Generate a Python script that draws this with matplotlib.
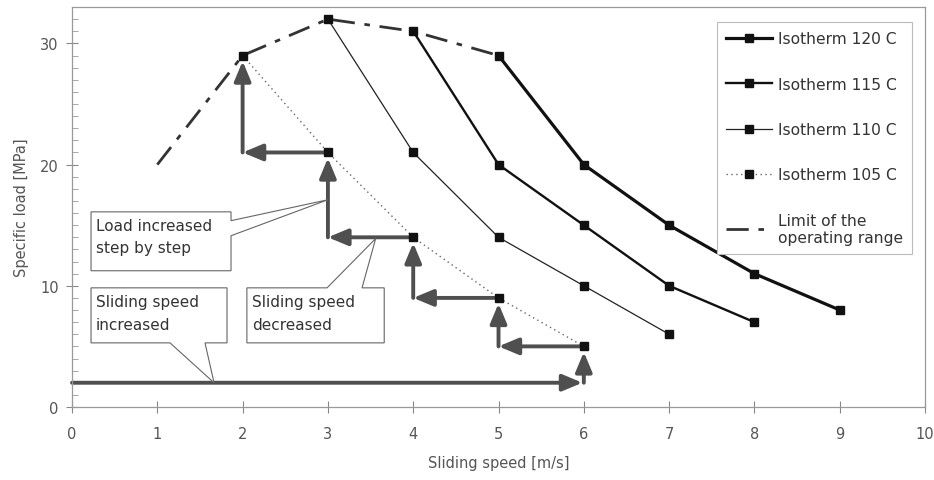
import matplotlib
matplotlib.use("Agg")
import matplotlib.pyplot as plt
from matplotlib.patches import Polygon
from matplotlib.ticker import MultipleLocator

# Isotherme (Sliding speed [m/s] -> Specific load [MPa])
speed_120 = [5, 6, 7, 8, 9]
load_120 = [29, 20, 15, 11, 8]
speed_115 = [4, 5, 6, 7, 8]
load_115 = [31, 20, 15, 10, 7]
speed_110 = [3, 4, 5, 6, 7]
load_110 = [32, 21, 14, 10, 6]
speed_105 = [2, 3, 4, 5, 6]
load_105 = [29, 21, 14, 9, 5]

# Grenze des Betriebsbereichs
limit_speed = [1, 2, 3, 4, 5]
limit_load = [20, 29, 32, 31, 29]

# Startlast beim Hochfahren der Geschwindigkeit
start_load = 2

GRAY = "#555555"
ARROW = "#4f4f4f"
TEXT = "#333333"

plt.rcParams["font.family"] = ["DejaVu Sans"]

fig = plt.figure(figsize=(9.34, 4.81), dpi=100)
ax = fig.add_axes([0.0771, 0.1518, 0.9133, 0.8315])

ax.plot(speed_120, load_120, color="#111111", lw=2.3, marker="s", ms=6,
        mfc="#111111", mec="#111111", label="Isotherm 120 C", zorder=4)
ax.plot(speed_115, load_115, color="#111111", lw=1.7, marker="s", ms=6,
        mfc="#111111", mec="#111111", label="Isotherm 115 C", zorder=4)
ax.plot(speed_110, load_110, color="#222222", lw=0.9, marker="s", ms=6,
        mfc="#111111", mec="#111111", label="Isotherm 110 C", zorder=4)
ax.plot(speed_105, load_105, color="#666666", lw=1.0, ls=(0, (1, 2.5)), marker="s", ms=6,
        mfc="#111111", mec="#111111", label="Isotherm 105 C", zorder=4)
ax.plot(limit_speed, limit_load, color="#333333", lw=2.0, ls=(0, (8, 3.5, 2, 3.5)),
        label="Limit of the\noperating range", zorder=3)


def arrow(start, end, shrink=0):
    ax.annotate("", xy=end, xytext=start, zorder=2,
                arrowprops=dict(arrowstyle="-|>,head_length=0.6,head_width=0.25",
                                mutation_scale=20, lw=2.8, color=ARROW,
                                shrinkA=0, shrinkB=shrink))


# Geschwindigkeit hochfahren, dann stufenweise Last erhöhen
arrow((0, start_load), (speed_105[-1], start_load), shrink=1)
arrow((speed_105[-1], start_load), (speed_105[-1], load_105[-1]), shrink=4)
for i in range(len(speed_105) - 1, 0, -1):
    arrow((speed_105[i], load_105[i]), (speed_105[i - 1], load_105[i]))
    arrow((speed_105[i - 1], load_105[i]), (speed_105[i - 1], load_105[i - 1]), shrink=4)


def callout(verts, text_xy, text):
    ax.add_patch(Polygon(verts, closed=True, fc="white", ec="#666666", lw=0.8, zorder=5))
    ax.text(text_xy[0], text_xy[1], text, ha="left", va="center", fontsize=11,
            color=TEXT, linespacing=1.6, zorder=6)


callout([(0.223, 16.1), (1.864, 16.1), (1.864, 15.37), (3.0, 17.1), (1.864, 14.13),
         (1.864, 11.24), (0.223, 11.24)], (0.28, 14.05), "Load increased\nstep by step")
callout([(0.223, 9.83), (1.817, 9.83), (1.817, 5.29), (1.559, 5.29), (1.665, 2.0),
         (1.149, 5.29), (0.223, 5.29)], (0.28, 7.75), "Sliding speed\nincreased")
callout([(2.05, 9.83), (2.99, 9.83), (3.56, 13.9), (3.40, 9.83), (3.66, 9.83),
         (3.66, 5.29), (2.05, 5.29)], (2.11, 7.75), "Sliding speed\ndecreased")

ax.set_xlim(0, 10)
ax.set_ylim(0, 33)
ax.xaxis.set_major_locator(MultipleLocator(1))
ax.yaxis.set_major_locator(MultipleLocator(10))
ax.yaxis.set_minor_locator(MultipleLocator(1))

ax.tick_params(axis="both", which="major", direction="inout", length=9, width=0.8,
               color="#888888", labelsize=10.5, labelcolor=GRAY)
ax.tick_params(axis="x", which="major", pad=9)
ax.tick_params(axis="y", which="major", pad=5)
ax.tick_params(axis="y", which="minor", direction="in", length=4, width=0.6, color="#999999")
for s in ax.spines.values():
    s.set_color("#999999")
    s.set_linewidth(0.9)

ax.set_xlabel("Sliding speed [m/s]", fontsize=10.5, color=GRAY, labelpad=10)
ax.set_ylabel("Specific load [MPa]", fontsize=10.5, color=GRAY, labelpad=8)

leg = ax.legend(loc="upper right", bbox_to_anchor=(0.985, 0.9625), borderaxespad=0,
                fontsize=11.2, labelspacing=1.95, handlelength=2.9, handletextpad=0.4,
                fancybox=False, framealpha=1, edgecolor="#bbbbbb", borderpad=0.6)
leg.get_frame().set_linewidth(0.8)
leg.set_zorder(7)
for t in leg.get_texts():
    t.set_color(TEXT)

fig.savefig("out.png", dpi=100)
